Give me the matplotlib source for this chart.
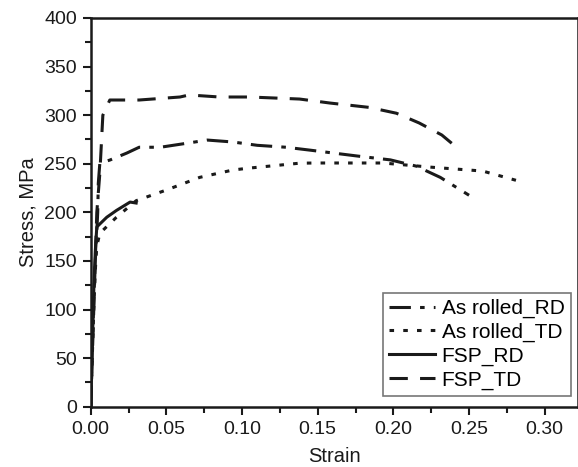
import matplotlib
matplotlib.use("Agg")
import matplotlib.pyplot as plt
from matplotlib.ticker import MultipleLocator

plt.rcParams['font.family'] = ['Liberation Sans', 'DejaVu Sans']

rd_strain = [0.0, 0.001, 0.002, 0.003, 0.004, 0.0046, 0.005, 0.006, 0.0126, 0.0238, 0.032, 0.046, 0.063, 0.077,
             0.094, 0.110, 0.129, 0.145, 0.176, 0.198, 0.215, 0.231, 0.250]
rd_stress = [0, 60, 110, 150, 180, 200, 230, 250.6, 253.8, 261, 267, 267, 271, 274.4,
             272.4, 269, 267, 264, 258, 254, 247.6, 236, 217.6]

td_strain = [0.0, 0.001, 0.002, 0.003, 0.004, 0.006, 0.017, 0.030, 0.050, 0.072, 0.094, 0.105, 0.138, 0.149,
             0.193, 0.224, 0.259, 0.281]
td_stress = [0, 50, 100, 140, 165, 178.5, 195, 212, 223, 236, 243.6, 245.6, 250.6, 250.8,
             250.8, 246.6, 242.5, 233]

fsprd_strain = [0.0, 0.001, 0.002, 0.003, 0.004, 0.0106, 0.017, 0.026, 0.030]
fsprd_stress = [0, 60, 120, 160, 185, 195, 202, 210.6, 209.6]

fsptd_strain = [0.0, 0.001, 0.002, 0.003, 0.004, 0.006, 0.008, 0.0126, 0.032, 0.059, 0.065, 0.085, 0.105,
                0.138, 0.158, 0.184, 0.202, 0.217, 0.232, 0.244]
fsptd_stress = [0, 50, 100, 150, 200, 240, 300, 315.6, 315.6, 318.7, 320.8, 318.7, 318.7,
                316.6, 312.5, 308, 302, 292, 279.6, 264]

fig = plt.figure(figsize=(5.78, 4.67), dpi=100)
ax = fig.add_axes([0.157, 0.129, 0.843, 0.8325])

c = '#1a1a1a'
ax.plot(rd_strain, rd_stress, color=c, lw=2.2, dashes=[7, 3, 1.5, 3], label='As rolled_RD')
ax.plot(td_strain, td_stress, color=c, lw=2.2, dashes=[1.5, 3], label='As rolled_TD')
ax.plot(fsprd_strain, fsprd_stress, color=c, lw=2.2, label='FSP_RD')
ax.plot(fsptd_strain, fsptd_stress, color=c, lw=2.2, dashes=[6, 4], label='FSP_TD')

ax.set_xlim(0, 0.322)
ax.set_ylim(0, 400)
ax.xaxis.set_minor_locator(MultipleLocator(0.025))
ax.yaxis.set_major_locator(MultipleLocator(50))
ax.yaxis.set_minor_locator(MultipleLocator(25))
ax.set_xticks([0, 0.05, 0.10, 0.15, 0.20, 0.25, 0.30])
ax.set_xticklabels(['0.00', '0.05', '0.10', '0.15', '0.20', '0.25', '0.30'])
ax.tick_params(which='major', length=6, width=1.5, labelsize=14, colors=c, pad=4)
ax.tick_params(which='minor', length=4, width=1.5, colors=c)
for s in ax.spines.values():
    s.set_linewidth(1.8)
    s.set_color(c)

ax.set_xlabel('Strain', fontsize=14.5, color=c, labelpad=7)
ax.set_ylabel('Stress, MPa', fontsize=14.5, color=c, labelpad=5)

leg = ax.legend(loc='lower right', bbox_to_anchor=(0.985, 0.028), fontsize=15, frameon=True,
                fancybox=False, edgecolor='#555555', handlelength=2.2, handletextpad=0.3,
                borderpad=0.3, labelspacing=0.22, borderaxespad=0)
leg.get_frame().set_linewidth(1.2)

fig.savefig('out.png', dpi=100)
